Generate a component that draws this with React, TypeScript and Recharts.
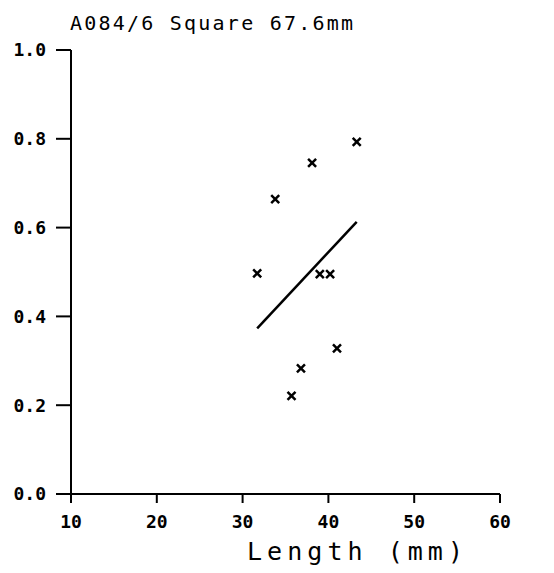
import React from 'react';
import { ScatterChart, Scatter, XAxis, YAxis } from 'recharts';

// measured points (length mm, ratio)
const lengthMm = [43.3, 38.1, 33.8, 31.7, 39.0, 40.2, 41.0, 36.8, 35.7];
const ratio = [0.793, 0.746, 0.664, 0.497, 0.495, 0.495, 0.328, 0.283, 0.221];

// fitted line end points
const fitLength = [31.7, 43.3];
const fitRatio = [0.373, 0.613];

const xTicks = [10, 20, 30, 40, 50, 60];
const yTicks = [0, 0.2, 0.4, 0.6, 0.8, 1.0];

const points = lengthMm.map((x, i) => ({ x, y: ratio[i] }));
const fit = fitLength.map((x, i) => ({ x, y: fitRatio[i] }));

const FONT = '"DejaVu Sans Mono", monospace';

const Cross = (props: any) => {
  const { cx, cy } = props;
  const r = 4;
  return (
    <path
      d={`M${cx - r},${cy - r}L${cx + r},${cy + r}M${cx + r},${cy - r}L${cx - r},${cy + r}`}
      stroke="#000"
      strokeWidth={2.5}
      fill="none"
    />
  );
};

const NoDot = () => <g />;

const tickStyle = { fill: '#000', fontFamily: FONT, fontSize: 18, fontWeight: 'bold' as const };

export default function App() {
  return (
    <div style={{ position: 'relative', width: 554, height: 573, margin: '-8px 0 0 -8px', background: '#fff' }}>
      <ScatterChart width={554} height={573} margin={{ top: 50, right: 54, bottom: 49, left: 11 }}>
        <XAxis
          type="number"
          dataKey="x"
          domain={[10, 60]}
          ticks={xTicks}
          allowDataOverflow
          height={30}
          stroke="#000"
          strokeWidth={2}
          tickSize={9}
          tickMargin={12}
          tick={tickStyle}
        />
        <YAxis
          type="number"
          dataKey="y"
          domain={[0, 1]}
          ticks={yTicks}
          allowDataOverflow
          width={60}
          stroke="#000"
          strokeWidth={2}
          tickSize={15}
          tickMargin={10}
          tick={tickStyle}
          tickFormatter={(v: number) => v.toFixed(1)}
        />
        <Scatter data={points} shape={<Cross />} isAnimationActive={false} />
        <Scatter
          data={fit}
          line={{ stroke: '#000', strokeWidth: 2.5 }}
          shape={<NoDot />}
          isAnimationActive={false}
        />
      </ScatterChart>
      <svg width={554} height={573} style={{ position: 'absolute', left: 0, top: 0, pointerEvents: 'none' }}>
        <text x={70} y={30} fontFamily={FONT} fontSize={20} textLength={283} lengthAdjust="spacing" fill="#000">
          A084/6 Square 67.6mm
        </text>
        <text x={247} y={560} fontFamily={FONT} fontSize={25} textLength={216} lengthAdjust="spacing" fill="#000">
          Length (mm)
        </text>
      </svg>
    </div>
  );
}
